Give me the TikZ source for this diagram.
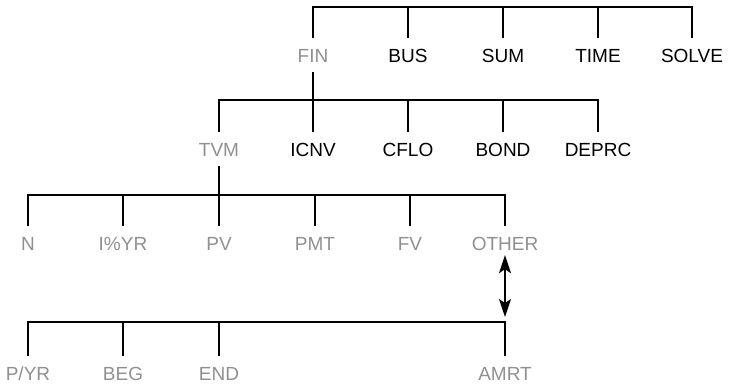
\documentclass[tikz,border=0pt]{standalone}
\usepackage{fontspec}
\setmainfont{Liberation Sans}
\usetikzlibrary{arrows.meta}
\definecolor{soft}{HTML}{909090}
\tikzset{
  lbl/.style={inner sep=0pt, minimum height=36pt, text height=14pt, text depth=0pt,
              font=\fontsize{19}{19}\selectfont},
  dim/.style={lbl, text=soft},
  key/.style={lbl, text=black},
  tree/.style={line width=1.6pt, black, line cap=rect},
  dbl/.style={line width=1.6pt, {Stealth[length=18pt,width=12pt,inset=4pt]}-{Stealth[length=18pt,width=12pt,inset=4pt]}}
}
\begin{document}
\begin{tikzpicture}[x=1pt,y=-1pt]
\useasboundingbox (0,0) rectangle (729,384);
% level A
\node[dim] (fin) at (313,55) {FIN};
\node[key] (bus) at (408,55) {BUS};
\node[key] (sum) at (503,55) {SUM};
\node[key] (time) at (598,55) {TIME};
\node[key] (solve) at (692,55) {SOLVE};
\coordinate (barA) at (0,7);
% level B
\node[dim] (tvm) at (219,149) {TVM};
\node[key] (icnv) at (313,149) {ICNV};
\node[key] (cflo) at (408,149) {CFLO};
\node[key] (bond) at (503,149) {BOND};
\node[key] (deprc) at (598,149) {DEPRC};
\coordinate (barB) at (0,100);
% level C
\node[dim] (n) at (28,243) {N};
\node[dim] (iyr) at (123,243) {I\%YR};
\node[dim] (pv) at (219,243) {PV};
\node[dim] (pmt) at (315,243) {PMT};
\node[dim] (fv) at (410,243) {FV};
\node[dim] (other) at (505,243) {OTHER};
\coordinate (barC) at (0,195);
% level D
\node[dim] (pyr) at (28,373) {P/YR};
\node[dim] (beg) at (123,373) {BEG};
\node[dim] (end) at (219,373) {END};
\node[dim] (amrt) at (505,373) {AMRT};
\coordinate (barD) at (0,322);
\coordinate (arrEnd) at (505,317);

% tree A
\draw[tree] (fin.north) -- (fin.north |- barA) -- (solve.north |- barA) -- (solve.north);
\foreach \k in {bus,sum,time} \draw[tree] (\k.north) -- (\k.north |- barA);
% tree B
\draw[tree] (fin.south) -- (icnv.north);
\draw[tree] (tvm.north) -- (tvm.north |- barB) -- (deprc.north |- barB) -- (deprc.north);
\foreach \k in {cflo,bond} \draw[tree] (\k.north) -- (\k.north |- barB);
% tree C
\draw[tree] (tvm.south) -- (pv.north);
\draw[tree] (n.north) -- (n.north |- barC) -- (other.north |- barC) -- (other.north);
\foreach \k in {iyr,pmt,fv} \draw[tree] (\k.north) -- (\k.north |- barC);
% arrow
\draw[dbl] ([yshift=6pt]other.south) -- (arrEnd);
% tree D
\draw[tree] (pyr.north) -- (pyr.north |- barD) -- (amrt.north |- barD) -- (amrt.north);
\foreach \k in {beg,end} \draw[tree] (\k.north) -- (\k.north |- barD);
\end{tikzpicture}
\end{document}
